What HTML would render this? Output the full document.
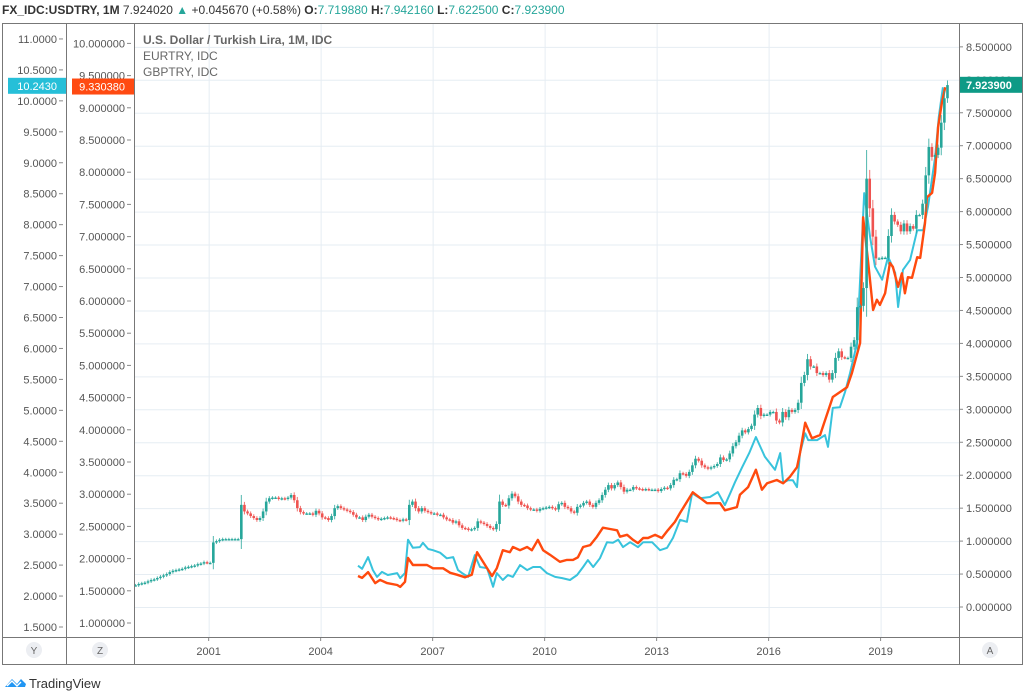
<!DOCTYPE html>
<html><head><meta charset="utf-8"><title>USDTRY chart</title>
<style>
html,body{margin:0;padding:0;background:#fff;width:1026px;height:695px;overflow:hidden;font-family:"Liberation Sans",sans-serif}
svg text{font-family:"Liberation Sans",sans-serif}
</style></head><body>
<svg id="chart" width="1026" height="695" viewBox="0 0 1026 695" xmlns="http://www.w3.org/2000/svg">
<g>
<text x="2" y="14" font-size="12" fill="#333"><tspan font-weight="bold">FX_IDC:USDTRY, 1M</tspan><tspan fill="#333"> 7.924020 </tspan><tspan fill="#26a69a">▲</tspan><tspan fill="#333"> +0.045670 (+0.58%) </tspan><tspan font-weight="bold">O:</tspan><tspan fill="#26a69a">7.719880 </tspan><tspan font-weight="bold">H:</tspan><tspan fill="#26a69a">7.942160 </tspan><tspan font-weight="bold">L:</tspan><tspan fill="#26a69a">7.622500 </tspan><tspan font-weight="bold">C:</tspan><tspan fill="#26a69a">7.923900</tspan></text>
</g>
<g id="grid"></g>
<g id="plot" clip-path="url(#clip)"></g>
<defs><clipPath id="clip"><rect x="134" y="23" width="825" height="614"/></clipPath></defs>
<g id="axes"></g>
<g>
<text x="143" y="44" font-size="12" font-weight="bold" fill="#666">U.S. Dollar / Turkish Lira, 1M, IDC</text>
<text x="143" y="60" font-size="12" fill="#666">EURTRY, IDC</text>
<text x="143" y="76" font-size="12" fill="#666">GBPTRY, IDC</text>
</g>
<g fill="none" stroke="#777" stroke-width="1">
<rect x="2.5" y="23.5" width="1020" height="641"/>
<line x1="66.5" y1="23" x2="66.5" y2="665"/>
<line x1="134.5" y1="23" x2="134.5" y2="665"/>
<line x1="959.5" y1="23" x2="959.5" y2="665"/>
<line x1="2" y1="637.5" x2="1023" y2="637.5"/>
</g>
<g>
<circle cx="34" cy="650" r="8" fill="#eceef2"/><text x="34" y="654" font-size="10" fill="#666" text-anchor="middle">Y</text>
<circle cx="100" cy="650" r="8" fill="#eceef2"/><text x="100" y="654" font-size="10" fill="#666" text-anchor="middle">Z</text>
<circle cx="990" cy="650" r="8" fill="#eceef2"/><text x="990" y="654" font-size="10" fill="#666" text-anchor="middle">A</text>
</g>
<g>
<path d="M5 687 L12 679 L17 684 L21 679 L26 684 L25 687 Z" fill="#2196f3"/>
<path d="M7 686 L12 681 L17 686 L21 682" fill="none" stroke="#fff" stroke-width="1.4"/>
<text x="29" y="688" font-size="13" fill="#333">TradingView</text>
</g>
</svg>
<script>
// ---- data ----
const usdStartYear = 1999;
const usdClose = [
0.33,0.35,0.36,0.37,0.39,0.41,0.42,0.44,0.46,0.48,0.50,0.53,
0.55,0.56,0.57,0.58,0.60,0.61,0.62,0.63,0.65,0.66,0.68,0.67,
0.67,0.98,1.00,1.02,1.03,1.03,1.03,1.03,1.03,1.03,1.55,1.45,
1.42,1.38,1.35,1.32,1.35,1.45,1.60,1.65,1.66,1.66,1.64,1.65,
1.64,1.66,1.70,1.62,1.50,1.44,1.42,1.42,1.42,1.40,1.46,1.42,
1.36,1.35,1.32,1.38,1.50,1.53,1.50,1.48,1.46,1.44,1.40,1.36,
1.36,1.32,1.37,1.40,1.37,1.35,1.33,1.34,1.35,1.36,1.35,1.34,
1.32,1.31,1.33,1.32,1.55,1.60,1.50,1.45,1.50,1.46,1.44,1.42,
1.42,1.40,1.40,1.36,1.33,1.32,1.28,1.30,1.24,1.20,1.19,1.17,
1.18,1.20,1.30,1.28,1.26,1.23,1.20,1.18,1.26,1.60,1.55,1.54,
1.65,1.72,1.68,1.60,1.55,1.54,1.50,1.48,1.48,1.46,1.49,1.50,
1.51,1.52,1.50,1.48,1.56,1.58,1.52,1.50,1.45,1.43,1.52,1.54,
1.58,1.60,1.55,1.52,1.58,1.62,1.70,1.78,1.85,1.80,1.85,1.89,
1.82,1.75,1.78,1.78,1.82,1.80,1.79,1.78,1.79,1.78,1.78,1.78,
1.76,1.79,1.81,1.80,1.85,1.93,1.94,2.03,2.02,1.99,2.05,2.15,
2.25,2.22,2.15,2.12,2.10,2.12,2.14,2.17,2.27,2.23,2.24,2.33,
2.44,2.50,2.60,2.68,2.65,2.70,2.75,2.92,3.02,2.90,2.92,2.92,
2.96,2.96,2.83,2.80,2.96,2.88,2.99,2.96,2.99,3.10,3.40,3.52,
3.76,3.65,3.65,3.55,3.55,3.52,3.55,3.45,3.55,3.78,3.88,3.79,
3.78,3.78,3.95,4.05,4.55,4.57,4.84,6.50,6.05,5.62,5.29,5.29,
5.30,5.30,5.63,5.95,5.85,5.80,5.70,5.82,5.70,5.78,5.74,5.95,
5.95,6.12,6.55,6.98,6.83,6.86,6.97,7.35,7.72,7.92
];
const eurDates = [2005.00,2005.11,2005.27,2005.46,2005.59,2005.78,2006.05,2006.13,2006.26,2006.34,2006.47,2006.66,2006.85,2007.01,2007.28,2007.47,2007.65,2007.87,2008.05,2008.19,2008.35,2008.59,2008.72,2008.88,2009.07,2009.15,2009.34,2009.53,2009.66,2009.82,2009.96,2010.14,2010.41,2010.60,2010.76,2010.89,2011.03,2011.22,2011.40,2011.56,2011.75,2011.94,2012.02,2012.21,2012.37,2012.50,2012.64,2012.77,2012.96,2013.14,2013.30,2013.49,2013.63,2013.97,2014.35,2014.70,2014.83,2015.15,2015.23,2015.45,2015.66,2015.82,2015.96,2016.22,2016.39,2016.57,2016.76,2016.84,2016.98,2017.16,2017.38,2017.72,2018.10,2018.23,2018.45,2018.53,2018.66,2018.80,2018.90,2018.98,2019.12,2019.25,2019.33,2019.47,2019.57,2019.65,2019.73,2019.84,2019.98,2020.06,2020.19,2020.24,2020.38,2020.46,2020.54,2020.64,2020.73];
const eurValues = [1.73,1.70,1.79,1.62,1.67,1.62,1.59,1.56,1.64,2.01,1.90,1.90,1.90,1.85,1.85,1.78,1.75,1.71,1.75,2.10,1.95,1.73,1.85,2.13,2.10,2.18,2.13,2.18,2.13,2.29,2.13,2.06,1.95,1.98,1.98,2.02,2.18,2.21,2.34,2.48,2.46,2.44,2.34,2.37,2.29,2.24,2.32,2.32,2.37,2.32,2.44,2.57,2.71,3.03,2.86,2.86,2.75,2.80,2.99,3.11,3.38,3.07,3.17,3.22,3.17,3.27,3.42,3.64,4.11,3.87,3.92,4.51,4.66,4.88,5.35,7.30,6.64,5.86,6.02,5.94,6.12,6.59,6.53,6.22,6.43,6.12,6.37,6.36,6.68,6.67,7.21,7.61,7.68,7.99,8.70,9.07,9.32];
const gbpDates = [2005.00,2005.11,2005.27,2005.40,2005.51,2005.64,2005.80,2006.05,2006.13,2006.26,2006.34,2006.47,2006.66,2006.74,2006.88,2007.01,2007.20,2007.38,2007.55,2007.68,2007.79,2007.95,2008.13,2008.27,2008.46,2008.62,2008.72,2008.88,2009.02,2009.15,2009.34,2009.53,2009.69,2009.88,2010.06,2010.28,2010.47,2010.68,2010.87,2011.03,2011.16,2011.30,2011.48,2011.67,2011.83,2011.97,2012.10,2012.29,2012.50,2012.64,2012.88,2013.09,2013.28,2013.44,2013.63,2013.81,2013.95,2014.16,2014.43,2014.64,2014.83,2014.97,2015.10,2015.29,2015.48,2015.66,2015.90,2016.17,2016.31,2016.39,2016.52,2016.65,2016.76,2016.84,2016.98,2017.06,2017.30,2017.51,2017.59,2017.72,2017.91,2018.05,2018.18,2018.37,2018.56,2018.72,2018.85,2019.04,2019.20,2019.39,2019.47,2019.60,2019.79,2019.98,2020.14,2020.27,2020.46,2020.56,2020.67];
const gbpValues = [2.49,2.44,2.63,2.42,2.31,2.39,2.34,2.37,2.29,2.37,2.91,2.78,2.79,2.86,2.76,2.74,2.70,2.61,2.63,2.42,2.37,2.31,2.66,2.47,2.45,2.15,2.37,2.26,2.34,2.31,2.50,2.42,2.47,2.47,2.37,2.31,2.29,2.26,2.34,2.47,2.58,2.47,2.61,2.87,2.86,2.91,2.79,2.87,2.79,2.87,2.87,2.74,2.78,2.94,3.23,3.20,3.66,3.58,3.60,3.68,3.47,3.66,3.84,4.08,4.31,4.57,4.25,4.04,4.31,3.83,3.87,3.87,3.76,4.31,4.63,4.52,4.52,4.60,4.41,5.04,5.05,5.30,5.60,6.09,8.51,7.80,7.32,7.11,7.48,7.22,6.67,7.27,7.43,7.91,7.91,8.29,9.09,9.74,10.22];
const yearTicks = [2001,2004,2007,2010,2013,2016,2019];
const rightTicks = [0,0.5,1,1.5,2,2.5,3,3.5,4,4.5,5,5.5,6,6.5,7,7.5,8,8.5];
const midTicks = [1,1.5,2,2.5,3,3.5,4,4.5,5,5.5,6,6.5,7,7.5,8,8.5,9,9.5,10];
const leftTicks = [1.5,2,2.5,3,3.5,4,4.5,5,5.5,6,6.5,7,7.5,8,8.5,9,9.5,10,10.5,11];
const lastUsd = 7.9239, lastEur = 9.33038, lastGbp = 10.2430;

// ---- scales ----
const X = t => 134 + (t - 1999) * 37.33;
const yUsd = v => 607 - v * 65.9;
const yEur = v => 623 - (v - 1) * 64.4;
const yGbp = v => 627 - (v - 1.5) * 61.9;
const NS = 'http://www.w3.org/2000/svg';
function mk(tag, attrs, parent){const e=document.createElementNS(NS,tag);for(const k in attrs)e.setAttribute(k,attrs[k]);parent.appendChild(e);return e;}
const grid = document.getElementById('grid'), plot = document.getElementById('plot'), axes = document.getElementById('axes');

rightTicks.forEach(v=>{const l=mk('line',{x1:134,x2:959,y1:yUsd(v)+0.5,y2:yUsd(v)+0.5,stroke:'#e6edf3','stroke-width':1},grid);

});
yearTicks.forEach(y=>{const l=mk('line',{x1:X(y)+0.5,x2:X(y)+0.5,y1:23,y2:637,stroke:'#e6edf3','stroke-width':1},grid);

});

function line(dates, vals, yf, color, w, name){
  const d = dates.map((t,i)=>(i?'L':'M')+X(t).toFixed(1)+' '+yf(vals[i]).toFixed(1)).join(' ');
  const p = mk('path',{d:d,fill:'none',stroke:color,'stroke-width':w,'stroke-linejoin':'round'},plot);
  
  
}
line(gbpDates,gbpValues,yGbp,'#38c3dc',2,'gbptry-line');
line(eurDates,eurValues,yEur,'#ff4a0e',2.4,'eurtry-line');

usdClose.forEach((c,i)=>{
  const o = i ? usdClose[i-1] : c;
  const t = usdStartYear + (i+0.5)/12;
  const x = X(t);
  const up = c >= o;
  const col = up ? '#26a69a' : '#ef5350';
  const wick = 0.02 + Math.abs(c-o)*0.25;
  const hi = Math.max(o,c)+wick, lo = Math.min(o,c)-wick;
  const g = mk('g',{},plot);
  
  
  mk('line',{x1:x,x2:x,y1:yUsd(hi),y2:yUsd(lo),stroke:col,'stroke-width':1,opacity:0.8},g);
  const yt=yUsd(Math.max(o,c)), yb=yUsd(Math.min(o,c));
  mk('rect',{x:x-1.3,y:yt,width:2.6,height:Math.max(1.4,yb-yt),fill:col},g);
});

function axisLabels(ticks, yf, xTick, xText, anchor, fmt, name){
  ticks.forEach(v=>{
    const y=yf(v);
    mk('line',{x1:xTick,x2:xTick+4,y1:y,y2:y,stroke:'#888','stroke-width':1},axes);
    const t=mk('text',{x:xText,y:y+4,'font-size':11,fill:'#555','text-anchor':anchor},axes);
    t.textContent=v.toFixed(fmt);
    
    
  });
}
axisLabels(leftTicks,yGbp,59,57,'end',4,'left-axis-label');
axisLabels(midTicks,yEur,127,125,'end',6,'middle-axis-label');
axisLabels(rightTicks,yUsd,959,966,'start',6,'right-axis-label');
yearTicks.forEach(y=>{
  mk('line',{x1:X(y),x2:X(y),y1:637,y2:641,stroke:'#888'},axes);
  const t=mk('text',{x:X(y),y:655,'font-size':11,fill:'#555','text-anchor':'middle'},axes);
  t.textContent=y;
  
  
});

function badge(x,w,v,yf,col,txt,name,anchor,tx){
  const y=yf(v);
  const g=mk('g',{},axes);
  
  
  mk('rect',{x:x,y:y-8,width:w,height:16,fill:col},g);
  const t=mk('text',{x:tx,y:y+4,'font-size':11,fill:'#fff','text-anchor':anchor,'font-weight':anchor==='start'?'bold':'normal'},g);
  t.textContent=txt;
}
badge(8,58,lastGbp,yGbp,'#26bfd8',lastGbp.toFixed(4),'gbptry-last-price','end',57);
badge(72,62,lastEur,yEur,'#ff4a12',lastEur.toFixed(6),'eurtry-last-price','end',125);
badge(960,62,lastUsd,yUsd,'#0e9a86',lastUsd.toFixed(6),'usdtry-last-price','start',966);
</script>
</body></html>
